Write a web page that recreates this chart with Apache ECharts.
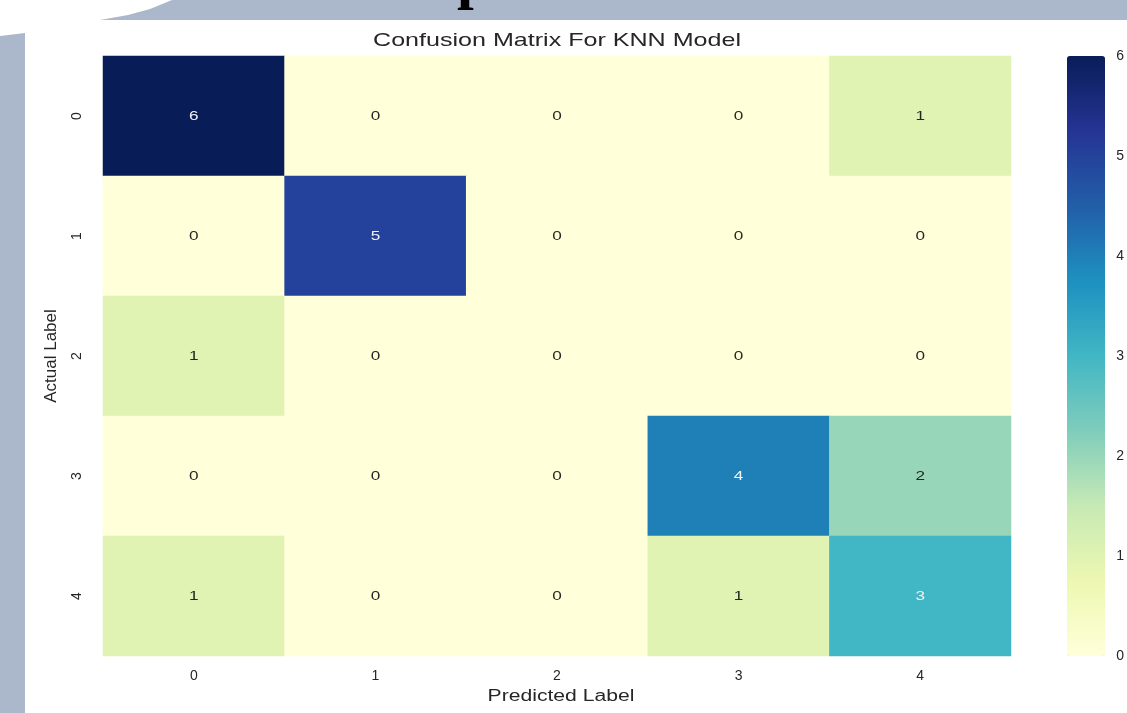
<!DOCTYPE html>
<html>
<head>
<meta charset="utf-8">
<title>Confusion Matrix For KNN Model</title>
<script src="https://cdn.jsdelivr.net/npm/echarts@6/dist/echarts.min.js"></script>
<style>
  html, body { margin: 0; padding: 0; background: #ffffff; }
  #chart { width: 1127px; height: 713px; }
</style>
</head>
<body>
<div id="chart"></div>
<script>
// Class labels for both axes
const predictedLabels = ['0', '1', '2', '3', '4'];
const actualLabels = ['0', '1', '2', '3', '4'];

// Confusion matrix counts, one array per actual class (rows)
const row0 = [6, 0, 0, 0, 1];
const row1 = [0, 5, 0, 0, 0];
const row2 = [1, 0, 0, 0, 0];
const row3 = [0, 0, 0, 4, 2];
const row4 = [1, 0, 0, 1, 3];
const matrix = [row0, row1, row2, row3, row4];

// Colour bar range
const colorMin = 0;
const colorMax = 6;

// YlGnBu palette stops
const ylGnBu = ['#ffffd9', '#edf8b1', '#c7e9b4', '#7fcdbb', '#41b6c4',
                '#1d91c0', '#225ea8', '#253494', '#081d58'];

const FONT = '"Liberation Sans", Arial, sans-serif';
const TEXT = '#262626';
const WIDE = 1.32; // horizontal stretch of the figure's text

// Heatmap cells: [predicted index, actual index, count]
const cells = [];
matrix.forEach((row, r) => {
  row.forEach((v, c) => { cells.push([c, r, v]); });
});

const chart = echarts.init(document.getElementById('chart'), null, { renderer: 'canvas' });

chart.setOption({
  backgroundColor: '#ffffff',
  animation: false,
  graphic: [
    // slide decoration behind the figure
    {
      type: 'polygon', z: -10,
      shape: { points: [[100, 20], [128, 15], [150, 9], [172, 0], [1127, 0], [1127, 20]] },
      style: { fill: '#abb8cb' }
    },
    {
      type: 'polygon', z: -10,
      shape: { points: [[0, 36], [25, 33], [25, 713], [0, 713]] },
      style: { fill: '#abb8cb' }
    },
    {
      type: 'text', z: -5, left: 457, top: -49,
      style: { text: 'p', fill: '#000000', font: 'bold 60px "Liberation Serif", serif' }
    },
    // figure title and x-axis name
    {
      type: 'text', x: 557, y: 41, scaleX: WIDE,
      style: {
        text: 'Confusion Matrix For KNN Model', fill: TEXT,
        font: '19px "Liberation Sans", Arial, sans-serif',
        align: 'center', verticalAlign: 'middle'
      }
    },
    {
      type: 'text', x: 561, y: 697, scaleX: WIDE,
      style: {
        text: 'Predicted Label', fill: TEXT,
        font: '16px "Liberation Sans", Arial, sans-serif',
        align: 'center', verticalAlign: 'middle'
      }
    }
  ],
  grid: [
    { left: 103, top: 56, width: 908, height: 600 },
    { left: 1067, top: 56, width: 38, height: 600 }
  ],
  xAxis: [
    {
      type: 'category', gridIndex: 0, data: predictedLabels,
      axisLine: { show: false }, axisTick: { show: false }, splitLine: { show: false },
      axisLabel: { fontFamily: FONT, fontSize: 14, color: TEXT, margin: 13 }
    },
    { type: 'value', gridIndex: 1, min: 0, max: 1, show: false }
  ],
  yAxis: [
    {
      type: 'category', gridIndex: 0, data: actualLabels, inverse: true,
      name: 'Actual Label', nameLocation: 'middle', nameGap: 43,
      nameTextStyle: { fontFamily: FONT, fontSize: 17, color: TEXT },
      axisLine: { show: false }, axisTick: { show: false }, splitLine: { show: false },
      axisLabel: { fontFamily: FONT, fontSize: 14, color: TEXT, rotate: 90, margin: 19 }
    },
    {
      type: 'value', gridIndex: 1, position: 'right', min: colorMin, max: colorMax, interval: 1,
      axisLine: { show: false }, axisTick: { show: false }, splitLine: { show: false },
      axisLabel: { fontFamily: FONT, fontSize: 14, color: TEXT, margin: 13 }
    }
  ],
  visualMap: {
    type: 'continuous',
    min: colorMin, max: colorMax,
    seriesIndex: 0,
    calculable: false,
    showLabel: false,
    text: null,
    left: 1067, top: 56,
    itemWidth: 38, itemHeight: 600,
    padding: 0,
    inRange: { color: ylGnBu }
  },
  series: [
    {
      type: 'heatmap',
      xAxisIndex: 0, yAxisIndex: 0,
      data: cells,
      label: { show: false },
      itemStyle: { borderWidth: 0 },
      emphasis: { disabled: true }
    },
    {
      // cell annotations, placed at each cell centre through the axes
      type: 'custom',
      xAxisIndex: 0, yAxisIndex: 0,
      data: cells,
      encode: { x: 0, y: 1 },
      silent: true,
      renderItem: function (params, api) {
        const v = api.value(2);
        const p = api.coord([api.value(0), api.value(1)]);
        return {
          type: 'text', x: p[0], y: p[1], scaleX: WIDE,
          style: {
            text: String(v),
            fill: v >= (colorMax - colorMin) / 2 ? '#f2f2f2' : '#262626',
            font: '13px "Liberation Sans", Arial, sans-serif',
            align: 'center', verticalAlign: 'middle'
          }
        };
      }
    },
    {
      type: 'scatter', xAxisIndex: 1, yAxisIndex: 1, data: [], silent: true
    }
  ]
});
</script>
</body>
</html>
